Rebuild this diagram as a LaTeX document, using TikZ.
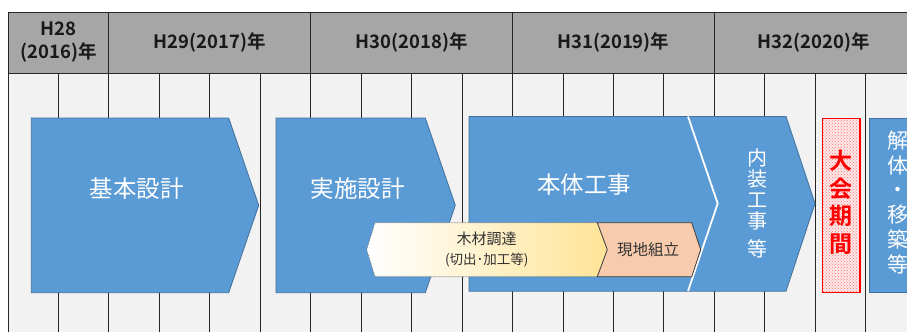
\documentclass[tikz,border=0pt]{standalone}
\usepackage{fontspec}
\setmainfont{Noto Sans CJK JP}[BoldFont={Noto Sans CJK JP Bold}]
\usetikzlibrary{patterns}
\definecolor{hdr}{RGB}{166,166,166}
\definecolor{bodybg}{RGB}{242,242,242}
\definecolor{blueA}{RGB}{91,155,213}
\definecolor{blueEdge}{RGB}{65,113,156}
\definecolor{peach}{RGB}{248,203,173}
\definecolor{ylw}{RGB}{255,228,150}
\definecolor{ylwl}{RGB}{255,243,210}
\definecolor{txtdark}{RGB}{50,50,50}
\definecolor{pinkbg}{RGB}{252,232,232}
\tikzset{
  gridline/.style={draw=black!85, line width=0.9pt},
  hdrtext/.style={font=\bfseries\fontsize{18.5}{23}\selectfont, text=black!90, align=center, inner sep=0pt},
  phase/.style={fill=blueA, draw=blueEdge, line width=0.8pt},
  phasetext/.style={font=\fontsize{23.5}{26}\selectfont, text=white, inner sep=0pt},
  vtext/.style={text=white, align=center, inner sep=0pt},
  subtext/.style={text=txtdark, align=center, inner sep=0pt}
}
\begin{document}
\begin{tikzpicture}[x=1pt,y=-1pt]
\useasboundingbox (0,0) rectangle (907,332);
\clip (0,0) rectangle (907,332);
% background
\fill[white] (0,0) rectangle (907,332);
\fill[bodybg] (8,73) rectangle (907,332);
\fill[hdr] (8,12.7) rectangle (907,73);
% grid
\foreach \i in {0,...,17} \draw[gridline] ({8+50.45*\i},73) -- ({8+50.45*\i},332);
\draw[gridline] (907,12.7) -- (8,12.7) -- (8,73) -- (907,73);
\foreach \i in {2,6,10,14} \draw[gridline] ({8+50.45*\i},12.7) -- ({8+50.45*\i},73);
% header texts
\node[hdrtext] (h28) at (58.5,42.5) {H28\\(2016)年};
\node[hdrtext] (h29) at (209.8,42.9) {H29(2017)年};
\node[hdrtext] (h30) at (411.6,42.9) {H30(2018)年};
\node[hdrtext] (h31) at (613.4,42.9) {H31(2019)年};
\node[hdrtext] (h32) at (813.5,42.9) {H32(2020)年};
% phases
\path[phase] (31.3,118) -- (228.7,118) -- (258.7,205.3) -- (228.7,292.7) -- (31.3,292.7) -- cycle;
\node[phasetext] (kihon) at (136.7,188.3) {基本設計};
\path[phase] (276,118) -- (425.3,118) -- (455.3,205.3) -- (425.3,292.7) -- (276,292.7) -- cycle;
\node[phasetext] (jisshi) at (357.7,188.3) {実施設計};
\path[phase] (469,116.5) -- (688,116.5) -- (717.7,203.5) -- (688,291.2) -- (469,291.2) -- cycle;
\node[phasetext] (hontai) at (584.2,185) {本体工事};
\path[phase] (688,116.5) -- (786,116.5) -- (815,203.5) -- (786,291.2) -- (688,291.2) -- (717.7,203.5) -- cycle;
\draw[white, line width=1.8pt] (688,116.5) -- (717.7,203.5) -- (688,291.2);
\node[vtext, font=\fontsize{20}{21.3}\selectfont] (naiso) at (757.7,203) {内\\装\\工\\事\\[6pt]等};
% taikai
\fill[pinkbg] (822.7,118.3) rectangle (860,292.7);
\fill[pattern=crosshatch dots, pattern color=red!55] (822.7,118.3) rectangle (860,292.7);
\draw[red, line width=1.3pt] (822.7,118.3) rectangle (860,292.7);
\node[text=red, align=center, inner sep=0pt, font=\bfseries\fontsize{23}{27.8}\selectfont] (taikai) at (841.3,202.3) {大\\会\\期\\間};
% kaitai
\path[phase] (869,118.3) rectangle (920,292.7);
\node[vtext, font=\fontsize{21}{24.7}\selectfont] (kaitai) at (898,202.3) {解\\体\\・\\移\\築\\等};
% wood procurement
\path[left color=white, middle color=ylwl, right color=ylw, draw=black!70, densely dotted, line width=0.6pt]
  (366.7,249.6) -- (375,222.7) -- (597.3,222.7) -- (607.3,249.6) -- (597.3,276.7) -- (375,276.7) -- cycle;
\node[subtext, font=\fontsize{15}{19.3}\selectfont] (mokuzai) at (486.7,249.6) {木材調達\\{\fontsize{13.5}{16}\selectfont (切出･加工等)}};
\path[fill=peach, draw=black!75, line width=0.8pt]
  (597.3,222.7) -- (691.7,222.7) -- (700.7,249.6) -- (691.7,276.7) -- (597.3,276.7) -- (607.3,249.6) -- cycle;
\node[subtext, font=\fontsize{15.5}{18}\selectfont] (genchi) at (648,249.6) {現地組立};
\end{tikzpicture}
\end{document}
